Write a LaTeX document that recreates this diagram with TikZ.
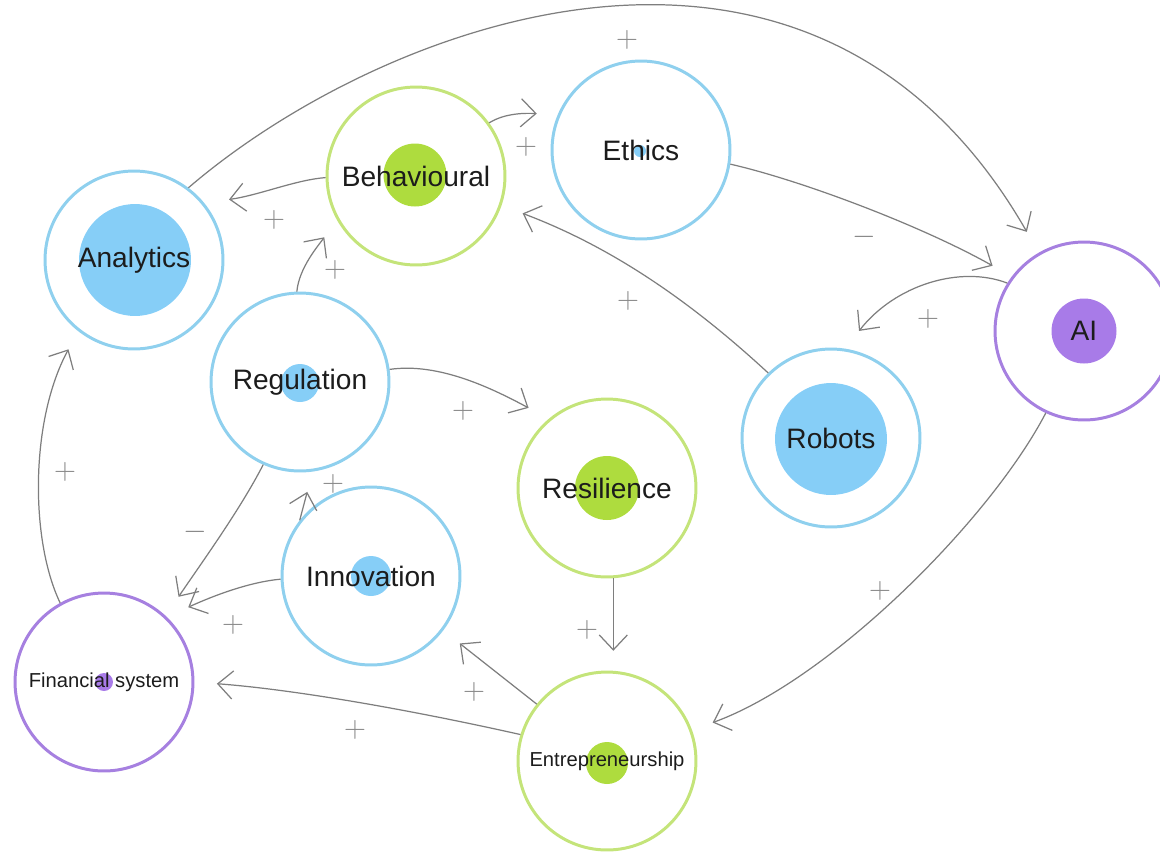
\documentclass[tikz,border=0pt]{standalone}
\usepackage{fontspec}
\setmainfont{Liberation Sans}
\usetikzlibrary{arrows.meta}

\definecolor{ringblue}{HTML}{8FD0EE}
\definecolor{coreblue}{HTML}{86CEF7}
\definecolor{ringgreen}{HTML}{C4E47A}
\definecolor{coregreen}{HTML}{AEDC3E}
\definecolor{ringpurple}{HTML}{A680E0}
\definecolor{corepurple}{HTML}{A87BE8}
\definecolor{linkgray}{HTML}{7E7E7E}
\definecolor{signgray}{HTML}{8A8A8A}
\definecolor{labelink}{HTML}{1C1C1C}

\begin{document}
\begin{tikzpicture}[
      x=0.02cm, y=-0.02cm,
      ring/.style={circle, draw, line width=1.7pt, minimum size=3.56cm,
        inner sep=0pt, text=labelink, font=\fontsize{16}{18}\selectfont},
      blue ring/.style={ring, draw=ringblue},
      green ring/.style={ring, draw=ringgreen},
      purple ring/.style={ring, draw=ringpurple},
      small text/.style={font=\fontsize{11.5}{13}\selectfont},
      core/.style={circle, inner sep=0pt, minimum size=#1},
      link/.style={draw=linkgray, line width=0.7pt,
        -{Straight Barb[length=8.5pt,width=16pt]}},
      sign/.style={text=signgray, inner sep=0pt, font=\fontsize{18}{18}\selectfont}
    ]
    \clip (0,0) rectangle (1160,853);

    % inner discs
    \node[core=2.24cm, fill=coreblue] (anacore) at (135,260) {};
    \node[core=1.26cm, fill=coregreen] (behcore) at (415,175) {};
    \node[core=0.24cm, fill=coreblue] (ethcore) at (640,151) {};
    \node[core=1.3cm, fill=corepurple] (aicore) at (1084,331) {};
    \node[core=0.76cm, fill=coreblue] (regcore) at (300,383) {};
    \node[core=2.24cm, fill=coreblue] (robcore) at (831,439) {};
    \node[core=1.28cm, fill=coregreen] (rescore) at (607,488) {};
    \node[core=0.8cm, fill=coreblue] (inncore) at (371,576) {};
    \node[core=0.36cm, fill=corepurple] (fincore) at (104,682) {};
    \node[core=0.84cm, fill=coregreen] (entcore) at (607,763) {};

    % rings
    \node[blue ring] (ana) at (134,260) {Analytics};
    \node[green ring] (beh) at (416,176) {Behavioural};
    \node[blue ring] (eth) at (641,150) {Ethics};
    \node[purple ring] (ai) at (1084,331) {AI};
    \node[blue ring] (reg) at (300,382) {Regulation};
    \node[blue ring] (rob) at (831,438) {Robots};
    \node[green ring] (res) at (607,488) {Resilience};
    \node[blue ring] (inn) at (371,576) {Innovation};
    \node[purple ring, small text] (fin) at (104,682) {Financial system};
    \node[green ring, small text] (ent) at (607,761) {Entrepreneurship};

    % links
    \draw[link, shorten >=0.48cm] (ana.53) .. controls (379,24) and (811,-144) .. (ai.120);
    \draw[link, shorten >=0.42cm] (beh.36) .. controls (505,113) and (525,113) .. (eth.157);
    \draw[link, shorten >=0.5cm] (beh.181) .. controls (295,180) and (260,195) .. (ana.39);
    \draw[link, shorten >=0.43cm] (reg.92) .. controls (299,268) and (318,246) .. (beh.209);
    \draw[link, shorten >=0.44cm] (eth.-9) .. controls (800,180) and (920,225) .. (ai.143);
    \draw[link, shorten >=0.45cm] (ai.148) .. controls (960,265) and (895,285) .. (rob.81);
    \draw[link, shorten >=0.45cm] (rob.134) .. controls (700,310) and (620,250) .. (beh.-19);
    \draw[link, shorten >=0.46cm] (reg.8) .. controls (440,362) and (495,390) .. (res.130);
    \draw[link, shorten >=0.46cm] (reg.246) .. controls (240,510) and (200,565) .. (fin.47);
    \draw[link, shorten >=0.42cm] (inn.142) -- (reg.-82);
    \draw[link, shorten >=0.47cm] (inn.182) .. controls (250,582) and (215,595) .. (fin.46);
    \draw[link, shorten >=0.4cm] (res.274) -- (ent.86);
    \draw[link, shorten >=0.42cm] (ent.141) -- (inn.-37);
    \draw[link, shorten >=0.45cm] (ent.163) .. controls (420,712) and (300,690) .. (fin.0);
    \draw[link, shorten >=0.44cm] (ai.245) .. controls (990,520) and (830,680) .. (ent.20);
    \draw[link, shorten >=0.41cm] (fin.119) .. controls (30,540) and (30,420) .. (ana.232);

    % polarities
    \node[sign] (s1) at (627,40) {$+$};
    \node[sign] (s2) at (526,147) {$+$};
    \node[sign] (s3) at (274,220) {$+$};
    \node[sign] (s4) at (335,270) {$+$};
    \node[sign] (s5) at (864,237) {$-$};
    \node[sign] (s6) at (928,319) {$+$};
    \node[sign] (s7) at (628,301) {$+$};
    \node[sign] (s8) at (463,411) {$+$};
    \node[sign] (s9) at (195,532) {$-$};
    \node[sign] (s10) at (333,484) {$+$};
    \node[sign] (s11) at (233,625) {$+$};
    \node[sign] (s12) at (587,630) {$+$};
    \node[sign] (s13) at (474,692) {$+$};
    \node[sign] (s14) at (355,730) {$+$};
    \node[sign] (s15) at (880,591) {$+$};
    \node[sign] (s16) at (65,472) {$+$};
\end{tikzpicture}
\end{document}
